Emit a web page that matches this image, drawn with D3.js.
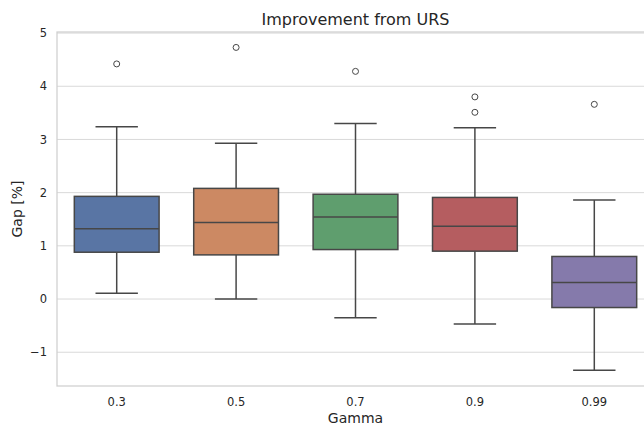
<!DOCTYPE html>
<style>
body { margin: 0; background: #fff; }
svg { font-family: "DejaVu Sans", sans-serif; }
</style>
<script src="https://d3js.org/d3.v7.min.js"></script>
<svg width="644" height="425"></svg>
<script>
var gammas = ["0.3", "0.5", "0.7", "0.9", "0.99"];
var whiskLo = [0.11, 0.0, -0.35, -0.47, -1.34];
var q1 = [0.88, 0.83, 0.93, 0.90, -0.16];
var median = [1.32, 1.44, 1.54, 1.37, 0.31];
var q3 = [1.93, 2.08, 1.97, 1.91, 0.80];
var whiskHi = [3.24, 2.93, 3.30, 3.22, 1.86];
var fliers = [[4.42], [4.73], [4.28], [3.80, 3.51], [3.66]];
var colors = ["#5975a4", "#cc8963", "#5f9e6e", "#b55d60", "#857aab"];
var yTicks = [-1, 0, 1, 2, 3, 4, 5];

var svg = d3.select("svg"),
    plotL = 57, plotR = 654, plotT = 32, plotB = 386;

var x = d3.scaleBand()
    .domain(gammas)
    .range([plotL, plotR])
    .paddingInner(0)
    .paddingOuter(0);

var y = d3.scaleLinear()
    .domain([-1.635, 5.02])
    .range([plotB, plotT]);

var ink = "#262626", edge = "#474747";

// grid
svg.append("g")
  .selectAll("line")
  .data(yTicks)
  .enter().append("line")
    .attr("x1", plotL).attr("x2", plotR)
    .attr("y1", function(d) { return y(d); })
    .attr("y2", function(d) { return y(d); })
    .attr("stroke", "#d9d9d9")
    .attr("stroke-width", 1);

// frame
svg.append("rect")
    .attr("x", plotL).attr("y", plotT)
    .attr("width", plotR - plotL).attr("height", plotB - plotT)
    .attr("fill", "none")
    .attr("stroke", "#cfcfcf")
    .attr("stroke-width", 1.25);

// y axis
var yAxis = d3.axisLeft(y)
    .tickValues(yTicks)
    .tickSize(0)
    .tickPadding(10)
    .tickFormat(function(d) { return d < 0 ? "\u2212" + (-d) : d; });
var gy = svg.append("g").attr("transform", "translate(" + plotL + ",0)").call(yAxis);
gy.select(".domain").remove();
gy.selectAll("text").attr("fill", ink).style("font-size", "11.5px").style("font-family", "DejaVu Sans");

// x axis
var xAxis = d3.axisBottom(x).tickSize(0).tickPadding(12);
var gx = svg.append("g").attr("transform", "translate(0," + plotB + ")").call(xAxis);
gx.select(".domain").remove();
gx.selectAll("text").attr("fill", ink).style("font-size", "11.5px").style("font-family", "DejaVu Sans");

var bw = x.bandwidth() * 0.71;

var box = svg.selectAll("g.box")
  .data(gammas)
  .enter().append("g")
    .attr("class", "box")
    .attr("transform", function(d) { return "translate(" + (x(d) + x.bandwidth() / 2) + ",0)"; });

box.append("line")
    .attr("y1", function(d, i) { return y(whiskHi[i]); })
    .attr("y2", function(d, i) { return y(q3[i]); })
    .attr("stroke", edge).attr("stroke-width", 1.5);
box.append("line")
    .attr("y1", function(d, i) { return y(q1[i]); })
    .attr("y2", function(d, i) { return y(whiskLo[i]); })
    .attr("stroke", edge).attr("stroke-width", 1.5);

[whiskHi, whiskLo].forEach(function(arr) {
  box.append("line")
      .attr("x1", -bw / 4).attr("x2", bw / 4)
      .attr("y1", function(d, i) { return y(arr[i]); })
      .attr("y2", function(d, i) { return y(arr[i]); })
      .attr("stroke", edge).attr("stroke-width", 1.5);
});

box.append("rect")
    .attr("x", -bw / 2)
    .attr("width", bw)
    .attr("y", function(d, i) { return y(q3[i]); })
    .attr("height", function(d, i) { return y(q1[i]) - y(q3[i]); })
    .attr("fill", function(d, i) { return colors[i]; })
    .attr("stroke", edge).attr("stroke-width", 1.5);

box.append("line")
    .attr("x1", -bw / 2).attr("x2", bw / 2)
    .attr("y1", function(d, i) { return y(median[i]); })
    .attr("y2", function(d, i) { return y(median[i]); })
    .attr("stroke", edge).attr("stroke-width", 1.5);

box.each(function(d, i) {
  d3.select(this).selectAll("circle")
    .data(fliers[i])
    .enter().append("circle")
      .attr("cy", function(v) { return y(v); })
      .attr("r", 3)
      .attr("fill", "none")
      .attr("stroke", edge)
      .attr("stroke-width", 1);
});

// labels
svg.append("text")
    .attr("x", (plotL + plotR) / 2).attr("y", 25)
    .attr("text-anchor", "middle")
    .attr("fill", ink)
    .style("font-size", "16px")
    .text("Improvement from URS");

svg.append("text")
    .attr("x", (plotL + plotR) / 2).attr("y", 423)
    .attr("text-anchor", "middle")
    .attr("fill", ink)
    .style("font-size", "14px")
    .text("Gamma");

svg.append("text")
    .attr("transform", "translate(22," + ((plotT + plotB) / 2) + ") rotate(-90)")
    .attr("text-anchor", "middle")
    .attr("fill", ink)
    .style("font-size", "14px")
    .text("Gap [%]");
</script>
